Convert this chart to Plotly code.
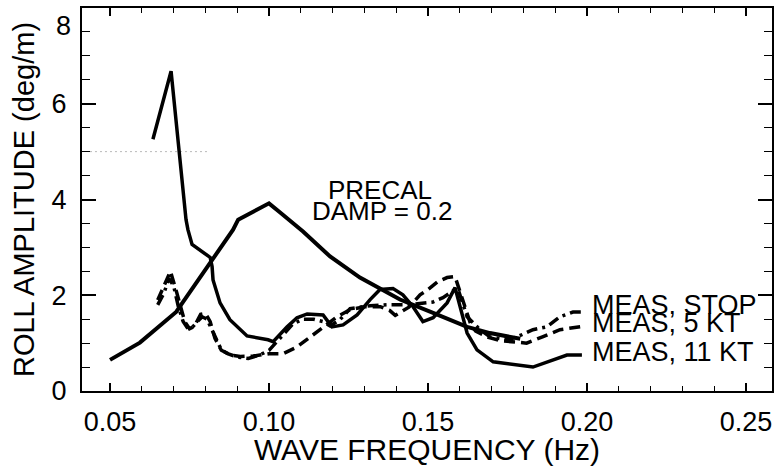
import plotly.graph_objects as go

# ---- data ----
precal_x = [0.050, 0.0594, 0.0708, 0.0815, 0.0887, 0.0903, 0.100, 0.1035, 0.1107, 0.1192,
            0.1286, 0.1349, 0.1412, 0.1516, 0.1623, 0.1695, 0.179]
precal_y = [0.65, 1.01, 1.65, 2.68, 3.37, 3.58, 3.92, 3.73, 3.33, 2.81,
            2.37, 2.14, 1.91, 1.63, 1.34, 1.21, 1.09]

kt11_x = [0.0635, 0.0692, 0.0739, 0.0745, 0.0758, 0.0792, 0.0815, 0.0821, 0.0824, 0.0846,
          0.0877, 0.0931, 0.0997, 0.1013, 0.1057, 0.1088, 0.1120, 0.1170, 0.1198, 0.1233,
          0.1277, 0.1318, 0.1349, 0.1390, 0.1421, 0.1453, 0.1484, 0.1516, 0.1560, 0.1585,
          0.1607, 0.1623, 0.1654, 0.1705, 0.1830, 0.1874, 0.1937, 0.1984]
kt11_y = [5.26, 6.68, 3.58, 3.37, 3.06, 2.91, 2.79, 2.60, 2.32, 1.84,
          1.49, 1.15, 1.07, 1.03, 1.34, 1.53, 1.61, 1.59, 1.34, 1.38,
          1.59, 1.91, 2.12, 2.14, 2.01, 1.76, 1.45, 1.53, 1.84, 2.16,
          1.63, 1.21, 0.86, 0.61, 0.50, 0.61, 0.75, 0.75]

kt5_x = [0.0650, 0.0675, 0.0690, 0.0710, 0.0725, 0.0735, 0.0750, 0.0765, 0.0785, 0.0800,
         0.0815, 0.0830, 0.0850, 0.0880, 0.0910, 0.0950, 0.1000, 0.1044, 0.1088, 0.1129,
         0.1170, 0.1214, 0.1255, 0.1300, 0.1350, 0.1380, 0.1397, 0.1440, 0.1475, 0.1500,
         0.1530, 0.1560, 0.1585, 0.1605, 0.1620, 0.1635, 0.1650, 0.1690, 0.1730, 0.1770,
         0.1810, 0.1860, 0.1915, 0.1985]
kt5_y = [1.90, 2.25, 2.50, 2.05, 1.70, 1.45, 1.30, 1.35, 1.60, 1.62,
         1.45, 1.10, 0.85, 0.75, 0.72, 0.73, 0.78, 0.78, 0.92, 1.13,
         1.34, 1.55, 1.70, 1.76, 1.76, 1.68, 1.58, 1.75, 2.01, 2.12,
         2.28, 2.37, 2.39, 2.00, 1.70, 1.38, 1.25, 1.12, 1.05, 1.02,
         1.00, 1.13, 1.28, 1.35]

stop_x = [0.0650, 0.0670, 0.0685, 0.0700, 0.0715, 0.0730, 0.0745, 0.0760, 0.0775, 0.0790,
          0.0805, 0.0820, 0.0835, 0.0850, 0.0870, 0.0900, 0.0935, 0.0970, 0.1000, 0.1040,
          0.1075, 0.1107, 0.1140, 0.1170, 0.1192, 0.1223, 0.1255, 0.1318, 0.1371, 0.1434,
          0.1484, 0.1516, 0.1547, 0.1585, 0.1595, 0.1623, 0.1664, 0.1695, 0.1748, 0.1780,
          0.1830, 0.1874, 0.1915, 0.1956, 0.1987]
stop_y = [1.80, 2.05, 2.35, 2.20, 1.76, 1.45, 1.30, 1.34, 1.45, 1.55,
          1.50, 1.28, 1.07, 0.86, 0.78, 0.71, 0.68, 0.75, 0.85, 1.15,
          1.40, 1.50, 1.50, 1.45, 1.36, 1.49, 1.72, 1.78, 1.80, 1.80,
          1.84, 1.86, 1.95, 2.12, 2.12, 1.55, 1.28, 1.13, 1.07, 1.13,
          1.28, 1.34, 1.55, 1.65, 1.65]

faint_x = [0.0437, 0.0808]
faint_y = [5.0, 5.0]

labels = ["MEAS, STOP", "MEAS, 5 KT", "MEAS, 11 KT"]
label_y = [1.80, 1.42, 0.82]
label_x = 0.2019

x_ticks = [0.05, 0.10, 0.15, 0.20, 0.25]
y_ticks = [0, 2, 4, 6]
y_top_label = "8"

FONT = "Liberation Sans, Arial, Helvetica, sans-serif"

fig = go.Figure()
fig.add_trace(go.Scatter(x=faint_x, y=faint_y, mode="lines",
                         line=dict(color="#b8b8b8", width=1, dash="2px,3px"), hoverinfo="skip"))
fig.add_trace(go.Scatter(x=precal_x, y=precal_y, mode="lines", name="PRECAL",
                         line=dict(color="black", width=4)))
fig.add_trace(go.Scatter(x=stop_x, y=stop_y, mode="lines", name="MEAS, STOP",
                         line=dict(color="black", width=3.5, dash="11px,5px,3px,5px")))
fig.add_trace(go.Scatter(x=kt5_x, y=kt5_y, mode="lines", name="MEAS, 5 KT",
                         line=dict(color="black", width=3.5, dash="11px,6px")))
fig.add_trace(go.Scatter(x=kt11_x, y=kt11_y, mode="lines", name="MEAS, 11 KT",
                         line=dict(color="black", width=3.5)))

for t, yy in zip(labels, label_y):
    fig.add_annotation(x=label_x, y=yy, text=t, showarrow=False, xanchor="left",
                       yanchor="middle", xshift=-3,
                       font=dict(size=27, color="black", family=FONT))

fig.add_annotation(x=0.1349, y=4.19, text="PRECAL", showarrow=False, xanchor="center",
                   yanchor="middle", font=dict(size=26, color="black", family=FONT))
fig.add_annotation(x=0.1356, y=3.77, text="DAMP = 0.2", showarrow=False, xanchor="center",
                   yanchor="middle", font=dict(size=26, color="black", family=FONT))

# top y tick label, nudged down into the canvas as in the reference
fig.add_annotation(xref="paper", yref="paper", x=0, y=1, xanchor="right", yanchor="top",
                   xshift=-9, yshift=-1, text=y_top_label, showarrow=False,
                   font=dict(size=27, color="black", family=FONT))

fig.update_layout(
    width=777, height=466,
    margin=dict(l=82, r=5, t=8, b=75, autoexpand=False),
    paper_bgcolor="white", plot_bgcolor="white",
    showlegend=False,
    font=dict(family=FONT, color="black", size=25),
)
fig.update_xaxes(
    range=[0.04119, 0.25818], tickvals=x_ticks, ticktext=[f"{v:.2f}" for v in x_ticks],
    showgrid=False, zeroline=False, showline=True, linecolor="black", linewidth=2,
    mirror="ticks", ticks="inside", ticklen=8, tickwidth=1.5, tickcolor="black",
    minor=dict(dtick=0.01, tick0=0.05, ticks="inside", ticklen=5, tickwidth=1, tickcolor="black"),
    tickfont=dict(size=27, family=FONT, color="black"), ticklabelstandoff=6,
    title=dict(text="WAVE FREQUENCY (Hz)", font=dict(size=30, family=FONT, color="black"), standoff=0),
    automargin=False,
)
fig.update_yaxes(
    range=[0, 8], tickvals=y_ticks,
    showgrid=False, zeroline=False, showline=True, linecolor="black", linewidth=2,
    mirror="ticks", ticks="inside", ticklen=14, tickwidth=1.5, tickcolor="black",
    minor=dict(dtick=0.5, ticks="inside", ticklen=8, tickwidth=1, tickcolor="black"),
    tickfont=dict(size=27, family=FONT, color="black"), ticklabelstandoff=8,
    title=dict(text="ROLL AMPLITUDE (deg/m)", font=dict(size=29, family=FONT, color="black"), standoff=8),
    automargin=False,
)

fig.write_html("out.html")
